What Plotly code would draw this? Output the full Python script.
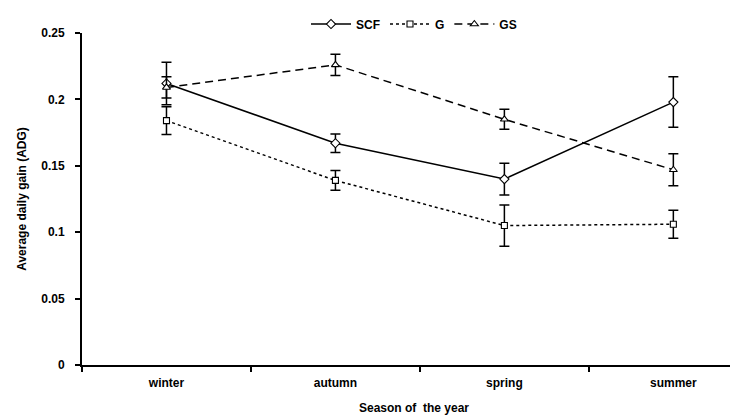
import plotly.graph_objects as go

seasons = ["winter", "autumn", "spring", "summer"]
scf = [0.212, 0.167, 0.140, 0.198]
scf_err = [0.016, 0.007, 0.012, 0.019]
g = [0.184, 0.139, 0.105, 0.106]
g_err = [0.0105, 0.0075, 0.0155, 0.0105]
gs = [0.209, 0.226, 0.185, 0.147]
gs_err = [0.008, 0.008, 0.0075, 0.012]

font_family = "Liberation Sans, Arial, sans-serif"

fig = go.Figure()

def add(name, y, err, symbol, dash, size):
    fig.add_trace(go.Scatter(
        x=seasons, y=y, name=name, mode="lines+markers",
        line=dict(color="black", width=1.5, dash=dash),
        marker=dict(symbol=symbol, size=size, color="white",
                    line=dict(color="black", width=1.1)),
        error_y=dict(type="data", array=err, visible=True,
                     color="black", thickness=1.5, width=5),
    ))

add("SCF", scf, scf_err, "diamond", "solid", 7)
add("G", g, g_err, "square", "dot", 6)
add("GS", gs, gs_err, "triangle-up", "8px,5px", 7)

fig.update_layout(
    width=738, height=416,
    margin=dict(l=74, r=0, t=25, b=59),
    paper_bgcolor="white", plot_bgcolor="white",
    font=dict(family=font_family, size=11, color="black"),
    showlegend=True,
    legend=dict(orientation="h", x=0.5, xanchor="center", y=1.027, yanchor="middle",
                font=dict(size=12, family=font_family, weight="bold"),
                bgcolor="rgba(0,0,0,0)", itemwidth=40, tracegroupgap=0),
    xaxis=dict(
        type="category", range=[-0.5, 3.43],
        showline=True, linecolor="black", linewidth=2,
        ticks="outside", tickson="boundaries", ticklen=5, tickwidth=2, tickcolor="black",
        showgrid=False, zeroline=False,
        tickfont=dict(size=12, family=font_family, weight="bold"),
        ticklabelstandoff=6,
        title=dict(text="Season of  the year", standoff=14,
                   font=dict(size=12, family=font_family, weight="bold")),
    ),
    yaxis=dict(
        range=[0, 0.25], dtick=0.05, tick0=0,
        showline=True, linecolor="black", linewidth=2,
        ticks="outside", ticklen=5, tickwidth=2, tickcolor="black",
        showgrid=False, zeroline=False,
        tickfont=dict(size=12, family=font_family, weight="bold"),
        ticklabelstandoff=8,
        title=dict(text="Average daily gain (ADG)", standoff=12,
                   font=dict(size=12, family=font_family, weight="bold")),
    ),
)

fig.write_html("out.html")
